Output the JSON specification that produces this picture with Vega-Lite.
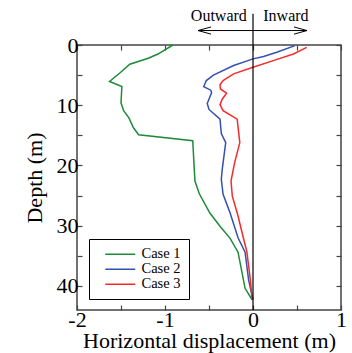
{
  "$schema": "https://vega.github.io/schema/vega-lite/v6.json",
  "autosize": {"type": "none"},
  "padding": {"left": 77, "top": 45, "right": 11, "bottom": 43},
  "width": 264,
  "height": 265,
  "config": {
    "font": "Liberation Serif",
    "view": {"stroke": "#444", "strokeWidth": 1.5},
    "axis": {
      "grid": false,
      "domain": false,
      "tickColor": "#444",
      "tickWidth": 1.2,
      "tickSize": -5,
      "labelFont": "Liberation Serif",
      "labelFontSize": 22,
      "labelColor": "#000",
      "titleFont": "Liberation Serif",
      "titleFontSize": 22,
      "titleFontWeight": "normal",
      "titleColor": "#000"
    },
    "legend": {
      "orient": "none",
      "legendX": 12,
      "legendY": 194,
      "strokeColor": "#000",
      "fillColor": "#fff",
      "padding": 8,
      "symbolType": "M-3,0L3,0",
      "symbolStrokeWidth": 1.5,
      "symbolSize": 100,
      "symbolOffset": 16,
      "labelOffset": 14,
      "labelFont": "Liberation Serif",
      "labelFontSize": 14.5,
      "labelColor": "#000",
      "rowPadding": 0
    }
  },
  "datasets": {
    "profiles": [
      {"case": "Case 1", "disp": -0.91, "depth": 0},
      {"case": "Case 1", "disp": -1.08, "depth": 1.5},
      {"case": "Case 1", "disp": -1.19, "depth": 2.2},
      {"case": "Case 1", "disp": -1.40, "depth": 3.2},
      {"case": "Case 1", "disp": -1.51, "depth": 4.6},
      {"case": "Case 1", "disp": -1.63, "depth": 6.05},
      {"case": "Case 1", "disp": -1.49, "depth": 6.9},
      {"case": "Case 1", "disp": -1.50, "depth": 9.6},
      {"case": "Case 1", "disp": -1.47, "depth": 10.9},
      {"case": "Case 1", "disp": -1.41, "depth": 12.1},
      {"case": "Case 1", "disp": -1.36, "depth": 13.7},
      {"case": "Case 1", "disp": -1.30, "depth": 14.9},
      {"case": "Case 1", "disp": -0.685, "depth": 15.9},
      {"case": "Case 1", "disp": -0.66, "depth": 22.6},
      {"case": "Case 1", "disp": -0.61, "depth": 24.7},
      {"case": "Case 1", "disp": -0.49, "depth": 27.9},
      {"case": "Case 1", "disp": -0.375, "depth": 30.1},
      {"case": "Case 1", "disp": -0.26, "depth": 32.1},
      {"case": "Case 1", "disp": -0.17, "depth": 34.4},
      {"case": "Case 1", "disp": -0.09, "depth": 40.4},
      {"case": "Case 1", "disp": -0.01, "depth": 42.3},
      {"case": "Case 2", "disp": 0.477, "depth": 0.1},
      {"case": "Case 2", "disp": 0.27, "depth": 1.2},
      {"case": "Case 2", "disp": 0.12, "depth": 1.9},
      {"case": "Case 2", "disp": 0.0, "depth": 2.3},
      {"case": "Case 2", "disp": -0.22, "depth": 3.4},
      {"case": "Case 2", "disp": -0.45, "depth": 5.0},
      {"case": "Case 2", "disp": -0.53, "depth": 5.9},
      {"case": "Case 2", "disp": -0.56, "depth": 6.9},
      {"case": "Case 2", "disp": -0.48, "depth": 7.5},
      {"case": "Case 2", "disp": -0.47, "depth": 7.9},
      {"case": "Case 2", "disp": -0.52, "depth": 9.7},
      {"case": "Case 2", "disp": -0.50, "depth": 10.7},
      {"case": "Case 2", "disp": -0.375, "depth": 12.3},
      {"case": "Case 2", "disp": -0.36, "depth": 14.7},
      {"case": "Case 2", "disp": -0.31, "depth": 16.2},
      {"case": "Case 2", "disp": -0.35, "depth": 20.7},
      {"case": "Case 2", "disp": -0.36, "depth": 22.3},
      {"case": "Case 2", "disp": -0.34, "depth": 24.8},
      {"case": "Case 2", "disp": -0.26, "depth": 27.9},
      {"case": "Case 2", "disp": -0.17, "depth": 32.0},
      {"case": "Case 2", "disp": -0.09, "depth": 34.4},
      {"case": "Case 2", "disp": -0.05, "depth": 39.0},
      {"case": "Case 2", "disp": 0.0, "depth": 42.3},
      {"case": "Case 3", "disp": 0.61, "depth": 0.4},
      {"case": "Case 3", "disp": 0.46, "depth": 1.5},
      {"case": "Case 3", "disp": 0.23, "depth": 2.6},
      {"case": "Case 3", "disp": 0.0, "depth": 3.7},
      {"case": "Case 3", "disp": -0.22, "depth": 4.8},
      {"case": "Case 3", "disp": -0.34, "depth": 5.9},
      {"case": "Case 3", "disp": -0.375, "depth": 6.6},
      {"case": "Case 3", "disp": -0.37, "depth": 7.3},
      {"case": "Case 3", "disp": -0.30, "depth": 8.0},
      {"case": "Case 3", "disp": -0.35, "depth": 9.0},
      {"case": "Case 3", "disp": -0.375, "depth": 9.9},
      {"case": "Case 3", "disp": -0.34, "depth": 10.9},
      {"case": "Case 3", "disp": -0.18, "depth": 12.3},
      {"case": "Case 3", "disp": -0.15, "depth": 16.2},
      {"case": "Case 3", "disp": -0.21, "depth": 19.6},
      {"case": "Case 3", "disp": -0.25, "depth": 22.6},
      {"case": "Case 3", "disp": -0.235, "depth": 25.1},
      {"case": "Case 3", "disp": -0.17, "depth": 28.4},
      {"case": "Case 3", "disp": -0.11, "depth": 32.0},
      {"case": "Case 3", "disp": -0.07, "depth": 34.3},
      {"case": "Case 3", "disp": -0.03, "depth": 39.0},
      {"case": "Case 3", "disp": -0.01, "depth": 42.3}
    ],
    "zero": [{"disp": 0, "top": -5.2, "bottom": 44}],
    "arrow": [{"x1": -0.625, "x2": 0.614, "y": -2.4}],
    "heads": [
      {"x": -0.625, "y": -2.4, "side": "left"},
      {"x": 0.614, "y": -2.4, "side": "right"}
    ],
    "outward": [{"x": -0.07, "y": -4.0, "text": "Outward"}],
    "inward": [{"x": 0.117, "y": -4.0, "text": "Inward"}]
  },
  "resolve": {"axis": {"x": "independent", "y": "independent"}},
  "layer": [
    {
      "data": {"name": "profiles"},
      "mark": {"type": "line", "strokeWidth": 1.5, "clip": false},
      "encoding": {
        "x": {
          "field": "disp", "type": "quantitative",
          "scale": {"domain": [-2, 1], "nice": false, "zero": false},
          "axis": {
            "orient": "bottom",
            "title": "Horizontal displacement (m)",
            "values": [-2, -1.5, -1, -0.5, 0, 0.5, 1],
            "labelExpr": "datum.value % 1 === 0 ? '' + datum.value : ''",
            "labelPadding": 4,
            "titlePadding": 0,
            "labelFlush": false,
            "labelOverlap": false
          }
        },
        "y": {
          "field": "depth", "type": "quantitative",
          "scale": {"domain": [0, 44], "nice": false, "zero": false, "reverse": true},
          "axis": {
            "orient": "left",
            "title": "Depth (m)",
            "values": [0, 5, 10, 15, 20, 25, 30, 35, 40],
            "labelExpr": "datum.value % 10 === 0 ? '' + datum.value : ''",
            "labelPadding": 4,
            "titlePadding": 10,
            "labelFlush": false,
            "labelOverlap": false
          }
        },
        "color": {
          "field": "case", "type": "nominal",
          "scale": {"domain": ["Case 1", "Case 2", "Case 3"], "range": ["#1f8a38", "#3450b0", "#f52a2a"]},
          "legend": {"title": null}
        },
        "order": {"field": "depth", "type": "quantitative"}
      }
    },
    {
      "data": {"name": "profiles"},
      "mark": {"type": "point", "opacity": 0},
      "encoding": {
        "x": {
          "field": "disp", "type": "quantitative",
          "axis": {"orient": "top", "title": null, "labels": false, "values": [-2, -1.5, -1, -0.5, 0, 0.5, 1]}
        },
        "y": {
          "field": "depth", "type": "quantitative",
          "axis": {"orient": "right", "title": null, "labels": false, "values": [0, 5, 10, 15, 20, 25, 30, 35, 40]}
        }
      }
    },
    {
      "data": {"name": "zero"},
      "mark": {"type": "rule", "color": "#000", "strokeWidth": 1.2, "clip": false},
      "encoding": {
        "x": {"field": "disp", "type": "quantitative", "axis": null},
        "y": {"field": "top", "type": "quantitative", "axis": null},
        "y2": {"field": "bottom"}
      }
    },
    {
      "data": {"name": "arrow"},
      "mark": {"type": "rule", "color": "#000", "strokeWidth": 1, "clip": false},
      "encoding": {
        "x": {"field": "x1", "type": "quantitative", "axis": null},
        "x2": {"field": "x2"},
        "y": {"field": "y", "type": "quantitative", "axis": null}
      }
    },
    {
      "data": {"name": "heads"},
      "mark": {"type": "point", "filled": false, "stroke": "#000", "strokeWidth": 1, "size": 169, "opacity": 1, "clip": false},
      "encoding": {
        "x": {"field": "x", "type": "quantitative", "axis": null},
        "y": {"field": "y", "type": "quantitative", "axis": null},
        "shape": {
          "field": "side", "type": "nominal",
          "scale": {"domain": ["left", "right"], "range": ["M2,-0.55L0,0L2,0.55", "M-2,-0.55L0,0L-2,0.55"]},
          "legend": null
        }
      }
    },
    {
      "data": {"name": "outward"},
      "mark": {"type": "text", "fontSize": 16, "font": "Liberation Serif", "color": "#000", "baseline": "alphabetic", "align": "right", "clip": false},
      "encoding": {
        "x": {"field": "x", "type": "quantitative", "axis": null},
        "y": {"field": "y", "type": "quantitative", "axis": null},
        "text": {"field": "text"}
      }
    },
    {
      "data": {"name": "inward"},
      "mark": {"type": "text", "fontSize": 16, "font": "Liberation Serif", "color": "#000", "baseline": "alphabetic", "align": "left", "clip": false},
      "encoding": {
        "x": {"field": "x", "type": "quantitative", "axis": null},
        "y": {"field": "y", "type": "quantitative", "axis": null},
        "text": {"field": "text"}
      }
    }
  ]
}
